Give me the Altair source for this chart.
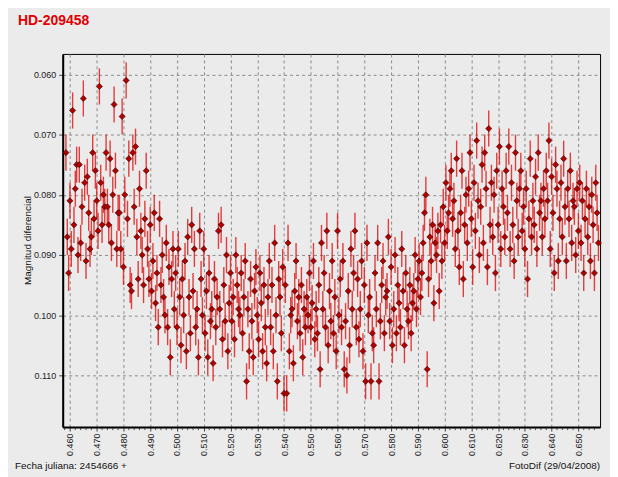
import altair as alt
import pandas as pd

TITLE = "HD-209458"
Y_TITLE = "Magnitud diferencial"
FOOT_LEFT = "Fecha juliana: 2454666 +"
FOOT_RIGHT = "FotoDif (29/04/2008)"

# Julian date offsets (JD - 2454666)
JD = [
    0.4585, 0.4590, 0.4595, 0.4600, 0.4605, 0.4610, 0.4615, 0.4620, 0.4625, 0.4630,
    0.4635, 0.4640, 0.4645, 0.4650, 0.4655, 0.4660, 0.4665, 0.4670, 0.4675, 0.4680,
    0.4685, 0.4690, 0.4695, 0.4700, 0.4705, 0.4710, 0.4715, 0.4720, 0.4725, 0.4730,
    0.4735, 0.4740, 0.4745, 0.4750, 0.4755, 0.4760, 0.4765, 0.4770, 0.4775, 0.4780,
    0.4785, 0.4790, 0.4795, 0.4800, 0.4805, 0.4810, 0.4815, 0.4820, 0.4825, 0.4830,
    0.4835, 0.4840, 0.4845, 0.4850, 0.4855, 0.4860, 0.4865, 0.4870, 0.4875, 0.4880,
    0.4885, 0.4890, 0.4895, 0.4900, 0.4905, 0.4910, 0.4915, 0.4920, 0.4925, 0.4930,
    0.4935, 0.4940, 0.4945, 0.4950, 0.4955, 0.4960, 0.4965, 0.4970, 0.4975, 0.4980,
    0.4985, 0.4990, 0.4995, 0.5000, 0.5005, 0.5010, 0.5015, 0.5020, 0.5025, 0.5030,
    0.5035, 0.5040, 0.5045, 0.5050, 0.5055, 0.5060, 0.5065, 0.5070, 0.5075, 0.5080,
    0.5085, 0.5090, 0.5095, 0.5100, 0.5105, 0.5110, 0.5115, 0.5120, 0.5125, 0.5130,
    0.5135, 0.5140, 0.5145, 0.5150, 0.5155, 0.5160, 0.5165, 0.5170, 0.5175, 0.5180,
    0.5185, 0.5190, 0.5195, 0.5200, 0.5205, 0.5210, 0.5215, 0.5220, 0.5225, 0.5230,
    0.5235, 0.5240, 0.5245, 0.5250, 0.5255, 0.5260, 0.5265, 0.5270, 0.5275, 0.5280,
    0.5285, 0.5290, 0.5295, 0.5300, 0.5305, 0.5310, 0.5315, 0.5320, 0.5325, 0.5330,
    0.5335, 0.5340, 0.5345, 0.5350, 0.5355, 0.5360, 0.5365, 0.5370, 0.5375, 0.5380,
    0.5385, 0.5390, 0.5395, 0.5400, 0.5405, 0.5410, 0.5415, 0.5420, 0.5425, 0.5430,
    0.5435, 0.5440, 0.5445, 0.5450, 0.5455, 0.5460, 0.5465, 0.5470, 0.5475, 0.5480,
    0.5485, 0.5490, 0.5495, 0.5500, 0.5505, 0.5510, 0.5515, 0.5520, 0.5525, 0.5530,
    0.5535, 0.5540, 0.5545, 0.5550, 0.5555, 0.5560, 0.5565, 0.5570, 0.5575, 0.5580,
    0.5585, 0.5590, 0.5595, 0.5600, 0.5605, 0.5610, 0.5615, 0.5620, 0.5625, 0.5630,
    0.5635, 0.5640, 0.5645, 0.5650, 0.5655, 0.5660, 0.5665, 0.5670, 0.5675, 0.5680,
    0.5685, 0.5690, 0.5695, 0.5700, 0.5705, 0.5710, 0.5715, 0.5720, 0.5725, 0.5730,
    0.5735, 0.5740, 0.5745, 0.5750, 0.5755, 0.5760, 0.5765, 0.5770, 0.5775, 0.5780,
    0.5785, 0.5790, 0.5795, 0.5800, 0.5805, 0.5810, 0.5815, 0.5820, 0.5825, 0.5830,
    0.5835, 0.5840, 0.5845, 0.5850, 0.5855, 0.5860, 0.5865, 0.5870, 0.5875, 0.5880,
    0.5885, 0.5890, 0.5895, 0.5900, 0.5905, 0.5910, 0.5915, 0.5920, 0.5925, 0.5930,
    0.5935, 0.5940, 0.5945, 0.5950, 0.5955, 0.5960, 0.5965, 0.5970, 0.5975, 0.5980,
    0.5985, 0.5990, 0.5995, 0.6000, 0.6005, 0.6010, 0.6015, 0.6020, 0.6025, 0.6030,
    0.6035, 0.6040, 0.6045, 0.6050, 0.6055, 0.6060, 0.6065, 0.6070, 0.6075, 0.6080,
    0.6085, 0.6090, 0.6095, 0.6100, 0.6105, 0.6110, 0.6115, 0.6120, 0.6125, 0.6130,
    0.6135, 0.6140, 0.6145, 0.6150, 0.6155, 0.6160, 0.6165, 0.6170, 0.6175, 0.6180,
    0.6185, 0.6190, 0.6195, 0.6200, 0.6205, 0.6210, 0.6215, 0.6220, 0.6225, 0.6230,
    0.6235, 0.6240, 0.6245, 0.6250, 0.6255, 0.6260, 0.6265, 0.6270, 0.6275, 0.6280,
    0.6285, 0.6290, 0.6295, 0.6300, 0.6305, 0.6310, 0.6315, 0.6320, 0.6325, 0.6330,
    0.6335, 0.6340, 0.6345, 0.6350, 0.6355, 0.6360, 0.6365, 0.6370, 0.6375, 0.6380,
    0.6385, 0.6390, 0.6395, 0.6400, 0.6405, 0.6410, 0.6415, 0.6420, 0.6425, 0.6430,
    0.6435, 0.6440, 0.6445, 0.6450, 0.6455, 0.6460, 0.6465, 0.6470, 0.6475, 0.6480,
    0.6485, 0.6490, 0.6495, 0.6500, 0.6505, 0.6510, 0.6515, 0.6520, 0.6525, 0.6530,
    0.6535, 0.6540, 0.6545, 0.6550, 0.6555, 0.6560, 0.6565, 0.6570, 0.6575,
]

# Differential magnitude, in thousandths of a magnitude
MAG_MILLI = [
    73, 87, 93, 81, 89, 66, 85, 79, 75, 90,
    75, 88, 82, 64, 78, 91, 77, 83, 89, 87,
    73, 84, 76, 81, 86, 62, 78, 85, 80, 82,
    73, 82, 85, 74, 88, 80, 65, 76, 89, 83,
    83, 89, 67, 92, 80, 61, 84, 74, 95, 96,
    73, 82, 72, 87, 94, 79, 86, 90, 95, 84,
    76, 89, 94, 85, 96, 91, 83, 98, 93, 102,
    84, 95, 90, 97, 100, 88, 102, 92, 107, 94,
    89, 99, 93, 102, 89, 97, 105, 94, 100, 91,
    106, 87, 97, 103, 85, 96, 89, 102, 99, 107,
    86, 94, 100, 89, 103, 96, 107, 93, 101, 99,
    108, 94, 102, 97, 86, 99, 85, 104, 95, 101,
    90, 106, 98, 93, 101, 97, 104, 90, 95, 99,
    100, 93, 103, 97, 91, 111, 99, 106, 94, 101,
    107, 96, 92, 100, 104, 93, 98, 106, 95, 102,
    108, 97, 91, 102, 95, 106, 88, 100, 111, 94,
    97, 103, 92, 113, 95, 113, 88, 106, 100, 99,
    108, 96, 91, 101, 97, 103, 95, 107, 99, 102,
    97, 100, 93, 102, 98, 91, 104, 99, 103, 95,
    109, 88, 99, 93, 102, 86, 105, 96, 101, 91,
    103, 97, 106, 86, 100, 94, 102, 91, 109, 101,
    110, 96, 105, 89, 99, 93, 86, 102, 94, 104,
    99, 91, 106, 95, 111, 88, 100, 97, 111, 103,
    105, 93, 99, 88, 111, 101, 95, 91, 103, 97,
    96, 87, 101, 92, 105, 99, 90, 103, 95, 98,
    102, 89, 96, 105, 93, 99, 101, 95, 103, 98,
    96, 90, 99, 94, 91, 97, 93, 88, 83, 80,
    109, 94, 87, 91, 85, 98, 88, 90, 86, 96,
    85, 91, 82, 88, 78, 86, 83, 79, 76, 84,
    81, 89, 74, 86, 92, 83, 76, 94, 85, 80,
    88, 79, 73, 84, 92, 78, 86, 71, 81, 90,
    82, 75, 88, 73, 79, 92, 69, 85, 78, 87,
    80, 93, 76, 85, 72, 89, 79, 82, 87, 76,
    83, 72, 89, 78, 85, 91, 73, 81, 87, 79,
    76, 86, 82, 89, 79, 94, 84, 74, 87, 81,
    85, 77, 89, 73, 83, 81, 87, 79, 84, 76,
    81, 71, 89, 77, 83, 93, 75, 79, 91, 84,
    78, 87, 74, 82, 91, 79, 84, 76, 88, 81,
    82, 90, 79, 86, 78, 88, 81, 93, 84, 79,
    87, 82, 91, 80, 85, 93, 78, 83, 88,
]

ERR = 0.003  # error bar half-length (mag)

X_TICKS = [0.460, 0.470, 0.480, 0.490, 0.500, 0.510, 0.520, 0.530, 0.540, 0.550,
           0.560, 0.570, 0.580, 0.590, 0.600, 0.610, 0.620, 0.630, 0.640, 0.650]
X_MINOR = [0.458, 0.462, 0.464, 0.466, 0.468, 0.472, 0.474, 0.476, 0.478,
           0.482, 0.484, 0.486, 0.488, 0.492, 0.494, 0.496, 0.498,
           0.502, 0.504, 0.506, 0.508, 0.512, 0.514, 0.516, 0.518,
           0.522, 0.524, 0.526, 0.528, 0.532, 0.534, 0.536, 0.538,
           0.542, 0.544, 0.546, 0.548, 0.552, 0.554, 0.556, 0.558,
           0.562, 0.564, 0.566, 0.568, 0.572, 0.574, 0.576, 0.578,
           0.582, 0.584, 0.586, 0.588, 0.592, 0.594, 0.596, 0.598,
           0.602, 0.604, 0.606, 0.608, 0.612, 0.614, 0.616, 0.618,
           0.622, 0.624, 0.626, 0.628, 0.632, 0.634, 0.636, 0.638,
           0.642, 0.644, 0.646, 0.648, 0.652, 0.654, 0.656]
Y_TICKS = [0.060, 0.070, 0.080, 0.090, 0.100, 0.110]

df = pd.DataFrame({"jd": JD, "mag": [m / 1000 for m in MAG_MILLI]})
df["lo"] = df["mag"] - ERR
df["hi"] = df["mag"] + ERR

W, H = 540, 375
FONT = "Liberation Sans"
BG = "#ebebeb"

xscale = alt.Scale(domain=[0.4573, 0.6581], nice=False, zero=False)
yscale = alt.Scale(domain=[0.0566, 0.1186], reverse=True, nice=False, zero=False)

xaxis = alt.Axis(values=X_TICKS, format=".3f", labelAngle=270, labelFontSize=9,
                 labelFont=FONT, labelColor="#222", tickSize=4, tickColor="#444",
                 labelPadding=2, labelOverlap=False, labelFlush=False,
                 labelBound=False, labelSeparation=0,
                 grid=True, gridDash=[3, 3], gridColor="#8a8a8a",
                 domainColor="#000", domainWidth=2, title=None)
yaxis = alt.Axis(values=Y_TICKS, format=".3f", labelFontSize=9, labelFont=FONT,
                 labelColor="#222", tickSize=4, tickColor="#444", labelPadding=3,
                 labelOverlap=False,
                 grid=True, gridDash=[3, 3], gridColor="#8a8a8a",
                 domainColor="#000", domainWidth=2, title=None)

base = alt.Chart(df)

bars = base.mark_rule(color="#e01010", strokeWidth=1.4, opacity=0.8).encode(
    x=alt.X("jd:Q", scale=xscale, axis=xaxis),
    y=alt.Y("lo:Q", scale=yscale, axis=yaxis),
    y2="hi:Q",
)

pts = base.mark_point(shape="diamond", filled=True, size=38, fill="#b00000",
                      stroke="#3a0000", strokeWidth=0.6, opacity=1).encode(
    x=alt.X("jd:Q", scale=xscale, axis=xaxis),
    y=alt.Y("mag:Q", scale=yscale, axis=yaxis),
)

minor = alt.Chart(pd.DataFrame({"t": X_MINOR})).mark_rule(
    color="#444", strokeWidth=1).encode(
    x=alt.X("t:Q", scale=xscale, axis=xaxis),
    y=alt.value(H + 1),
    y2=alt.value(H + 3),
)

title = alt.Chart(pd.DataFrame({"t": [TITLE]})).mark_text(
    align="left", baseline="middle", fontSize=14, fontWeight="bold",
    color="#e00000", font=FONT).encode(
    text="t:N", x=alt.value(-45), y=alt.value(-33))

ytitle = alt.Chart(pd.DataFrame({"t": [Y_TITLE]})).mark_text(
    align="center", baseline="middle", fontSize=10, angle=270,
    color="#111", font=FONT).encode(
    text="t:N", x=alt.value(-35), y=alt.value(H / 2))

foot_l = alt.Chart(pd.DataFrame({"t": [FOOT_LEFT]})).mark_text(
    align="left", baseline="middle", fontSize=10, color="#111", font=FONT).encode(
    text="t:N", x=alt.value(-48), y=alt.value(H + 39))

foot_r = alt.Chart(pd.DataFrame({"t": [FOOT_RIGHT]})).mark_text(
    align="right", baseline="middle", fontSize=10, color="#111", font=FONT).encode(
    text="t:N", x=alt.value(W), y=alt.value(H + 39))

chart = alt.layer(bars, pts, minor, title, ytitle, foot_l, foot_r).properties(
    width=W, height=H,
    autosize=alt.AutoSizeParams(type="none"),
    padding={"left": 55, "top": 45, "right": 10, "bottom": 49},
    background=BG,
).configure_view(fill=BG, stroke="#000", strokeWidth=1
).configure_axisX(labelOverlap=False, labelSeparation=0)

chart.save("out.html", embed_options={"renderer": "svg", "actions": False})
